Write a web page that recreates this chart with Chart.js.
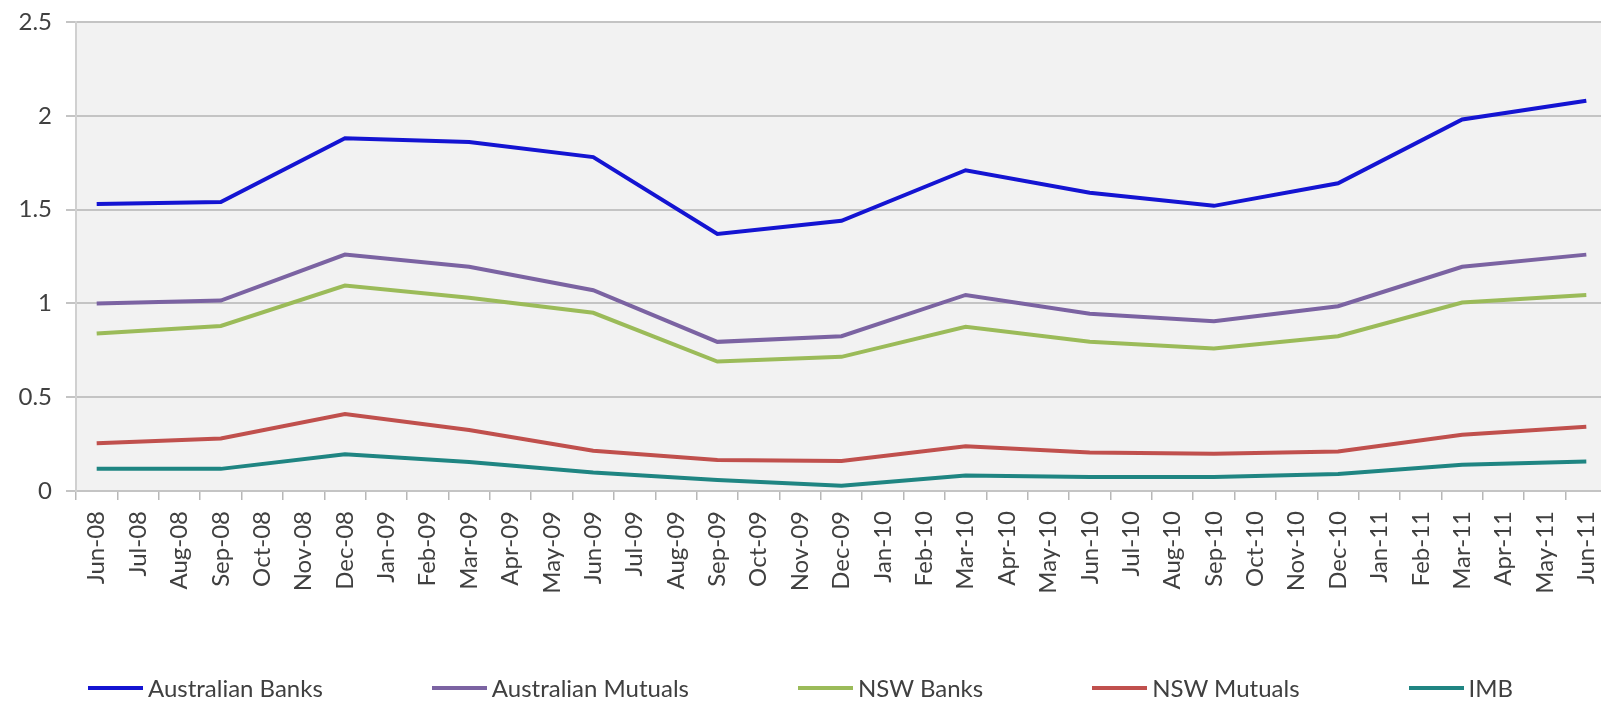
<!DOCTYPE html>
<html>
<head>
<meta charset="utf-8">
<title>Banks and mutuals</title>
<script src="https://cdn.jsdelivr.net/npm/chart.js@4.4.1/dist/chart.umd.min.js"></script>
<style>
  html, body { margin: 0; padding: 0; background: #fff; overflow: hidden; }
  #wrap { width: 1620px; height: 701px; position: relative; }
  #legend {
    position: absolute; left: 0; top: 673px; width: 1601px;
    display: flex; justify-content: center; gap: 109px;
    font: 24px Lato, "Open Sans", sans-serif; color: #404040; line-height: 30px;
  }
  #legend .item { display: flex; align-items: center; white-space: nowrap; }
  #legend .swatch { display: inline-block; width: 55px; height: 4px; margin-right: 5px; }
</style>
</head>
<body>
<div id="wrap"><canvas id="chart"></canvas></div>
<div id="legend"></div>
<script>
// monthly axis labels, Jun-08 .. Jun-11
const months = [
  "Jun-08","Jul-08","Aug-08","Sep-08","Oct-08","Nov-08","Dec-08","Jan-09","Feb-09","Mar-09",
  "Apr-09","May-09","Jun-09","Jul-09","Aug-09","Sep-09","Oct-09","Nov-09","Dec-09","Jan-10",
  "Feb-10","Mar-10","Apr-10","May-10","Jun-10","Jul-10","Aug-10","Sep-10","Oct-10","Nov-10",
  "Dec-10","Jan-11","Feb-11","Mar-11","Apr-11","May-11","Jun-11"
];

// readings are quarterly
const quarters = [
  "Jun-08","Sep-08","Dec-08","Mar-09","Jun-09","Sep-09","Dec-09",
  "Mar-10","Jun-10","Sep-10","Dec-10","Mar-11","Jun-11"
];

const ausBanks   = [1.53, 1.54, 1.88, 1.86, 1.78, 1.37, 1.44, 1.71, 1.59, 1.52, 1.64, 1.98, 2.08];
const ausMutuals = [1.00, 1.015, 1.26, 1.195, 1.07, 0.795, 0.825, 1.045, 0.945, 0.905, 0.985, 1.195, 1.26];
const nswBanks   = [0.84, 0.88, 1.095, 1.03, 0.95, 0.69, 0.715, 0.875, 0.795, 0.76, 0.825, 1.005, 1.045];
const nswMutuals = [0.255, 0.28, 0.41, 0.325, 0.215, 0.165, 0.16, 0.238, 0.205, 0.198, 0.21, 0.30, 0.343];
const imb        = [0.118, 0.118, 0.196, 0.155, 0.098, 0.058, 0.028, 0.082, 0.074, 0.074, 0.09, 0.14, 0.157];

const yTicks = [0, 0.5, 1, 1.5, 2, 2.5];

const FONT = "Lato, 'Open Sans', sans-serif";
const TEXT = "#404040";

const toPoints = (vals) => vals.map((v, i) => ({ x: quarters[i], y: v }));

function series(label, vals, color) {
  return {
    label,
    data: toPoints(vals),
    borderColor: color,
    backgroundColor: color,
    borderWidth: 4,
    tension: 0,
    pointRadius: 0,
    pointHoverRadius: 0
  };
}

// grey plot area behind the lines
const plotBackground = {
  id: "plotBackground",
  beforeDraw(chart) {
    const { ctx, chartArea: a } = chart;
    ctx.save();
    ctx.fillStyle = "#f2f2f2";
    ctx.fillRect(a.left, a.top, a.right - a.left, a.bottom - a.top);
    ctx.restore();
  }
};

// legend row built from the datasets, spaced like the spreadsheet one
const htmlLegend = {
  id: "htmlLegend",
  afterUpdate(chart) {
    const box = document.getElementById("legend");
    box.innerHTML = "";
    chart.data.datasets.forEach(ds => {
      const item = document.createElement("div");
      item.className = "item";
      const swatch = document.createElement("span");
      swatch.className = "swatch";
      swatch.style.background = ds.borderColor;
      const text = document.createElement("span");
      text.textContent = ds.label;
      item.append(swatch, text);
      box.appendChild(item);
    });
  }
};

new Chart(document.getElementById("chart").getContext("2d"), {
  type: "line",
  data: {
    labels: months,
    datasets: [
      series("Australian Banks",   ausBanks,   "#1414d2"),
      series("Australian Mutuals", ausMutuals, "#7b63a2"),
      series("NSW Banks",          nswBanks,   "#9bbb59"),
      series("NSW Mutuals",        nswMutuals, "#c0504d"),
      series("IMB",                imb,        "#1f8582")
    ]
  },
  options: {
    responsive: true,
    maintainAspectRatio: false,
    animation: false,
    layout: { padding: { top: 22, left: 0, right: 13, bottom: 0 } },
    plugins: {
      legend: { display: false },
      tooltip: { enabled: false }
    },
    scales: {
      x: {
        type: "category",
        offset: true,
        grid: {
          offset: true,
          drawOnChartArea: false,
          drawTicks: true,
          tickLength: 9,
          color: "#b8b8b8",
          lineWidth: 1.5
        },
        border: { color: "#c4c4c4", width: 2 },
        ticks: {
          autoSkip: false,
          maxRotation: 90,
          minRotation: 90,
          padding: 11,
          color: TEXT,
          font: { family: FONT, size: 24 }
        },
        afterFit(axis) {
          axis.height = 210;
          axis.paddingLeft = 0;
          axis.paddingRight = 0;
        }
      },
      y: {
        min: 0,
        max: 2.5,
        afterBuildTicks(axis) { axis.ticks = yTicks.map(v => ({ value: v })); },
        grid: {
          color: "#c4c4c4",
          lineWidth: 2,
          tickLength: 10
        },
        border: { color: "#d0d0d0", width: 2 },
        ticks: {
          padding: 14,
          color: TEXT,
          font: { family: FONT, size: 24 },
          callback: (v) => String(v)
        },
        afterFit(axis) {
          axis.width = 76;
          axis.paddingTop = 0;
          axis.paddingBottom = 0;
        }
      }
    }
  },
  plugins: [plotBackground, htmlLegend]
});
</script>
</body>
</html>
